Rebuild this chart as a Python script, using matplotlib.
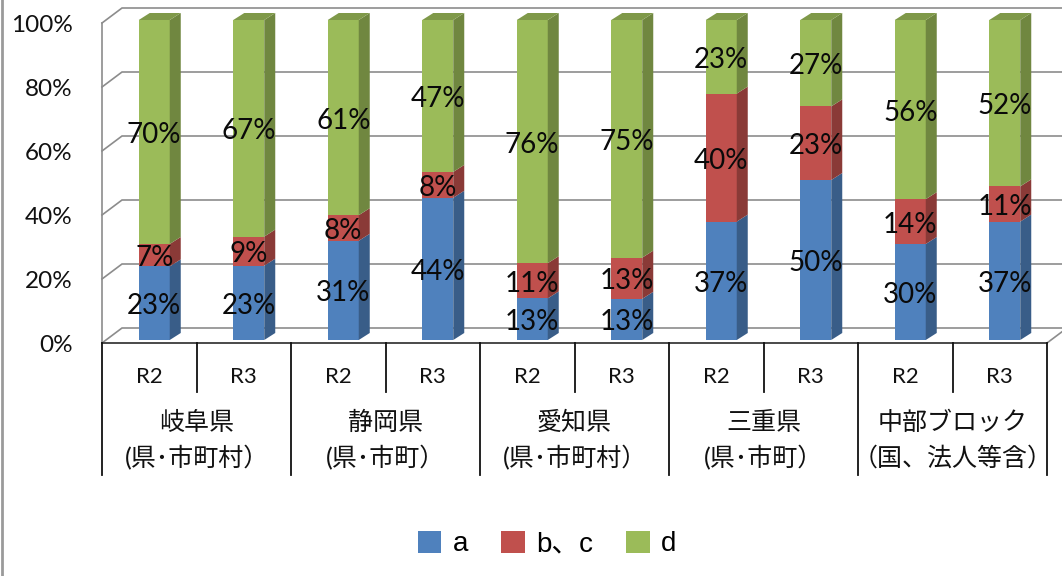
import numpy as np
import matplotlib
matplotlib.use("Agg")
import matplotlib.pyplot as plt
import matplotlib.patches as mpatches
from matplotlib.colors import to_rgb

plt.rcParams['font.family'] = ['Lato', 'Noto Sans CJK JP', 'DejaVu Sans']

# ---- data -------------------------------------------------------------
groups = ["岐阜県", "静岡県", "愛知県", "三重県", "中部ブロック"]
group_notes = ["(県･市町村）", "(県･市町）", "(県･市町村）", "(県･市町）", "（国、法人等含）"]
years = ["R2", "R3"] * 5
series_names = ["a", "b、c", "d"]
a_vals = [23, 23, 31, 44, 13, 13, 37, 50, 30, 37]
bc_vals = [7, 9, 8, 8, 11, 13, 40, 23, 14, 11]
d_vals = [70, 67, 61, 47, 76, 75, 23, 27, 56, 52]
y_ticks = [0, 0.2, 0.4, 0.6, 0.8, 1.0]
y_tick_labels = ["0%", "20%", "40%", "60%", "80%", "100%"]

colors = ["#4F81BD", "#C0504D", "#9BBB59"]

# ---- figure / axes ----------------------------------------------------
W, H = 1062, 576
fig = plt.figure(figsize=(W / 100, H / 100), dpi=100)
ax_left, ax_right, ax_y0, ax_y1 = 102, 1047, 343, 23
ax = fig.add_axes([ax_left / W, (H - ax_y0) / H,
                   (ax_right - ax_left) / W, (ax_y0 - ax_y1) / H])
n = len(years)
ax.set_xlim(0, n)
ax.set_ylim(0, 1)
for s in ax.spines.values():
    s.set_visible(False)
ax.set_xticks([])

# pixel -> data conversion for the pseudo-3D offsets
PX = n / (ax_right - ax_left)
PY = 1.0 / (ax_y0 - ax_y1)

wall_dx, wall_dy = 20 * PX, 15 * PY      # depth of the back wall
bar_dx, bar_dy = 11 * PX, 7 * PY         # depth of each column
shift_x, shift_y = 5 * PX, 3 * PY        # columns sit slightly inside the floor
bar_w = 31 * PX

grid_col = "#8C8C8C"
grid_lw = 1.2

# back wall gridlines + side wall diagonals
for yv in y_ticks:
    ax.plot([0, wall_dx, n + wall_dx + 1], [yv, yv + wall_dy, yv + wall_dy],
            color=grid_col, lw=grid_lw, clip_on=False, zorder=1,
            solid_joinstyle="miter")
# front-left edge of side wall
ax.plot([0, 0], [0, 1], color=grid_col, lw=grid_lw, clip_on=False, zorder=1)
# right edge of floor
ax.plot([n, n + wall_dx], [0, wall_dy], color=grid_col, lw=grid_lw,
        clip_on=False, zorder=1)
# category axis (front edge of floor)
ax.plot([0, n], [0, 0], color="#3A3A3A", lw=1.3, clip_on=False, zorder=2)

# y tick labels
ax.set_yticks(y_ticks)
ax.set_yticklabels(y_tick_labels, fontsize=17.5, color="#111111")
ax.tick_params(axis="y", length=0, pad=21)


def shade(c, f):
    r, g, b = to_rgb(c)
    return (r * f, g * f, b * f)


# ---- stacked columns ----------------------------------------------------
vals = np.array([a_vals, bc_vals, d_vals], dtype=float)
totals = vals.sum(axis=0)
fracs = vals / totals
x = np.arange(n) + 0.5
xf = x + shift_x
bottoms = np.zeros(n) + shift_y
label_drop = 3 * PY

for si in range(3):
    h = fracs[si]
    ax.bar(xf, h, width=bar_w, bottom=bottoms, color=colors[si],
           edgecolor="none", zorder=3, clip_on=False)
    side_c = shade(colors[si], 0.72)
    for i in range(n):
        xr = xf[i] + bar_w / 2
        b0, t0 = bottoms[i], bottoms[i] + h[i]
        ax.add_patch(mpatches.Polygon(
            [(xr, b0), (xr + bar_dx, b0 + bar_dy), (xr + bar_dx, t0 + bar_dy), (xr, t0)],
            closed=True, facecolor=side_c, edgecolor="none", zorder=3,
            clip_on=False))
        if si == 2:
            xl = xf[i] - bar_w / 2
            ax.add_patch(mpatches.Polygon(
                [(xl, t0), (xr, t0), (xr + bar_dx, t0 + bar_dy), (xl + bar_dx, t0 + bar_dy)],
                closed=True, facecolor=shade(colors[si], 0.82), edgecolor="none",
                zorder=3, clip_on=False))
    for i in range(n):
        ax.text(xf[i], bottoms[i] + h[i] / 2 - label_drop, f"{int(vals[si, i])}%",
                ha="center", va="center", fontsize=20, color="#0A0A0A",
                zorder=5, clip_on=False)
    bottoms = bottoms + h

# ---- category table below the floor -------------------------------------
def ypix(py):
    return (ax_y0 - py) * PY


for k in range(n + 1):
    y_end = ypix(475) if k % 2 == 0 else ypix(392)
    ax.plot([k, k], [0, y_end], color="#111111", lw=1.3, clip_on=False, zorder=2)

for i in range(n):
    ax.text(x[i], ypix(377), years[i], ha="center", va="center",
            fontsize=16, color="#111111", clip_on=False)

for g in range(len(groups)):
    gx = 2 * g + 1
    ax.text(gx, ypix(422), groups[g], ha="center", va="center",
            fontsize=18, color="#111111", clip_on=False)
    ax.text(gx, ypix(458), group_notes[g], ha="center", va="center",
            fontsize=18, color="#111111", clip_on=False)

# ---- legend -------------------------------------------------------------
handles = [mpatches.Patch(facecolor=c, edgecolor="none") for c in colors]
fig.legend(handles, series_names, loc="center", ncol=3,
           bbox_to_anchor=(547 / W, 1 - 544 / H), frameon=False,
           prop={"family": ["Liberation Sans", "Noto Sans CJK JP"], "size": 20},
           handlelength=0.85, handleheight=0.85, handletextpad=0.4,
           columnspacing=1.2)

# chart frame edge on the left
fig.add_artist(plt.Line2D([2 / W, 2 / W], [0, 1], transform=fig.transFigure,
                          color="#9A9A9A", lw=2))

fig.savefig("out.png", dpi=100, facecolor="white")
